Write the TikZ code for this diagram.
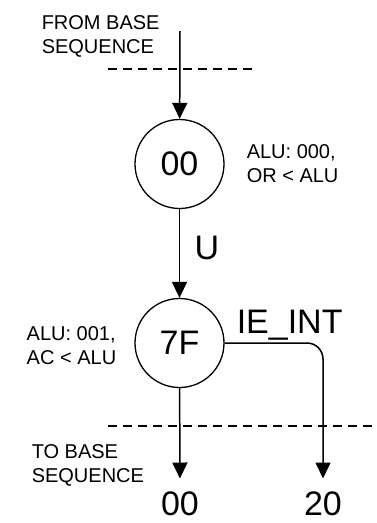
\documentclass[tikz,border=0pt]{standalone}
\usepackage{fontspec}
\setmainfont{Liberation Sans}
\usetikzlibrary{arrows.meta}
\begin{document}
\begin{tikzpicture}[x=1pt,y=-1pt,
  line width=1.5pt,
  state/.style={draw,circle,minimum size=89pt,inner sep=0pt,line width=1.3pt,font=\fontsize{34}{36}\selectfont},
  big/.style={inner sep=0pt,font=\fontsize{34}{36}\selectfont},
  small/.style={inner sep=0pt,align=left,font=\fontsize{20}{23.5}\selectfont},
  arr/.style={-{Triangle[length=16pt,width=15pt]}},
  dashline/.style={line width=1.1pt,dash pattern=on 9pt off 6pt}]
\useasboundingbox (0,0) rectangle (377,523);
\node[small,anchor=base west] (fromtxt) at (41,53) {FROM BASE\\SEQUENCE};
\coordinate (src) at (180,31);
\coordinate (d1a) at (108,69);
\coordinate (d1b) at (252,69);
\draw[dashline] (d1a) -- (d1b);
\node[state] (s00) at (179.5,164) {00};
\node[small,anchor=base west] (alu0) at (246,182) {ALU: 000,\\OR < ALU};
\node[state] (s7F) at (179.5,343) {7F};
\node[big,anchor=base] (ulab) at (207,259) {U};
\node[small,anchor=base west] (alu1) at (26,364) {ALU: 001,\\AC < ALU};
\node[big,anchor=base west] (ielab) at (236,333) {IE\_INT};
\coordinate (d2a) at (108,426);
\coordinate (d2b) at (377,426);
\draw[dashline] (d2a) -- (d2b);
\node[small,anchor=base west] (tobase) at (31,482) {TO BASE\\SEQUENCE};
\node[big,anchor=base,inner ysep=12pt] (n00) at (180,515) {00};
\node[big,anchor=base,inner ysep=12pt] (n20) at (323,515) {20};
\draw[arr] (src) -- (s00);
\draw[arr] (s00) -- (s7F);
\draw[arr] (s7F) -- (n00);
\draw[arr,rounded corners=16pt] (s7F.east) -| (n20.north);
\end{tikzpicture}
\end{document}
